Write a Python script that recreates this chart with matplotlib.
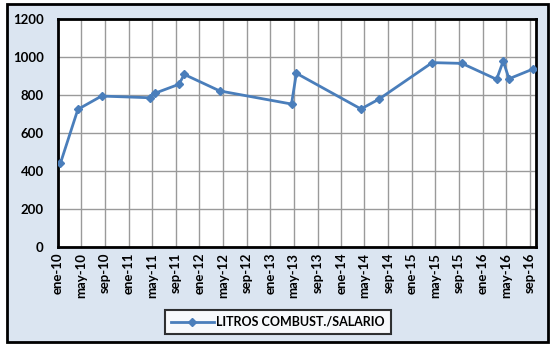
import numpy as np
import matplotlib
matplotlib.use("Agg")
import matplotlib.pyplot as plt
from matplotlib.patches import Rectangle
from datetime import date

# data
fechas = ["2010-01-15", "2010-04-15", "2010-08-15", "2011-04-22", "2011-05-15",
          "2011-09-18", "2011-10-15", "2012-04-15", "2013-04-20", "2013-05-15",
          "2014-04-13", "2014-07-15", "2015-04-15", "2015-09-15", "2016-03-12",
          "2016-04-15", "2016-05-15", "2016-09-15"]
litros = [442, 726, 796, 787, 810, 858, 910, 823, 754, 916,
          728, 780, 972, 968, 884, 980, 887, 938]
serie = "LITROS COMBUST./SALARIO"

tick_fechas = ["2010-01-01", "2010-05-01", "2010-09-01", "2011-01-01", "2011-05-01",
               "2011-09-01", "2012-01-01", "2012-05-01", "2012-09-01", "2013-01-01",
               "2013-05-01", "2013-09-01", "2014-01-01", "2014-05-01", "2014-09-01",
               "2015-01-01", "2015-05-01", "2015-09-01", "2016-01-01", "2016-05-01",
               "2016-09-01"]
tick_labels = ["ene-10", "may-10", "sep-10", "ene-11", "may-11", "sep-11",
               "ene-12", "may-12", "sep-12", "ene-13", "may-13", "sep-13",
               "ene-14", "may-14", "sep-14", "ene-15", "may-15", "sep-15",
               "ene-16", "may-16", "sep-16"]

plt.rcParams['font.family'] = ['Lato', 'DejaVu Sans']
plt.rcParams['font.weight'] = 'bold'

W, H = 559, 348
fig = plt.figure(figsize=(W/100, H/100), dpi=100)
fig.patch.set_facecolor('white')

# outer chart area
fig.patches.append(Rectangle((7/W, 1-342/H), (548-7)/W, (342-4)/H,
                             transform=fig.transFigure, facecolor='#dbe5f1',
                             edgecolor='black', lw=2, zorder=-10))

ax = fig.add_axes([57.7/W, 1-247.3/H, (536-57.7)/W, (247.3-19.3)/H])
ax.set_facecolor('white')

x = [np.datetime64(f) for f in fechas]
ax.plot(x, litros, color='#4a7ebb', lw=2, marker='D', ms=6.5,
        label=serie, zorder=3)

ax.set_ylim(0, 1200)
ax.set_yticks(np.arange(0, 1201, 200))
ax.set_xlim(date(2010, 1, 1), date(2016, 10, 1))
ax.set_xticks([np.datetime64(t) for t in tick_fechas])
ax.set_xticklabels(tick_labels, rotation=90)
ax.grid(True, color='#9a9a9a', lw=1)
ax.set_axisbelow(True)
ax.tick_params(length=0, labelsize=9.5)
ax.tick_params(axis='y', pad=10)
ax.tick_params(axis='x', pad=4)
for lab in ax.get_xticklabels() + ax.get_yticklabels():
    lab.set_fontweight('bold')
for s in ax.spines.values():
    s.set_color('black')
    s.set_linewidth(2)

h, l = ax.get_legend_handles_labels()
h[0].set_markersize(4)
leg = fig.legend(h, l, loc='center', bbox_to_anchor=(278/W, 1-322/H),
                 frameon=True, fancybox=False, edgecolor='black',
                 prop={'weight': 'bold', 'size': 9}, handlelength=3.4,
                 handletextpad=0.2, borderpad=0.5)
leg.get_frame().set_linewidth(1.5)

fig.savefig("out.png", dpi=100)
